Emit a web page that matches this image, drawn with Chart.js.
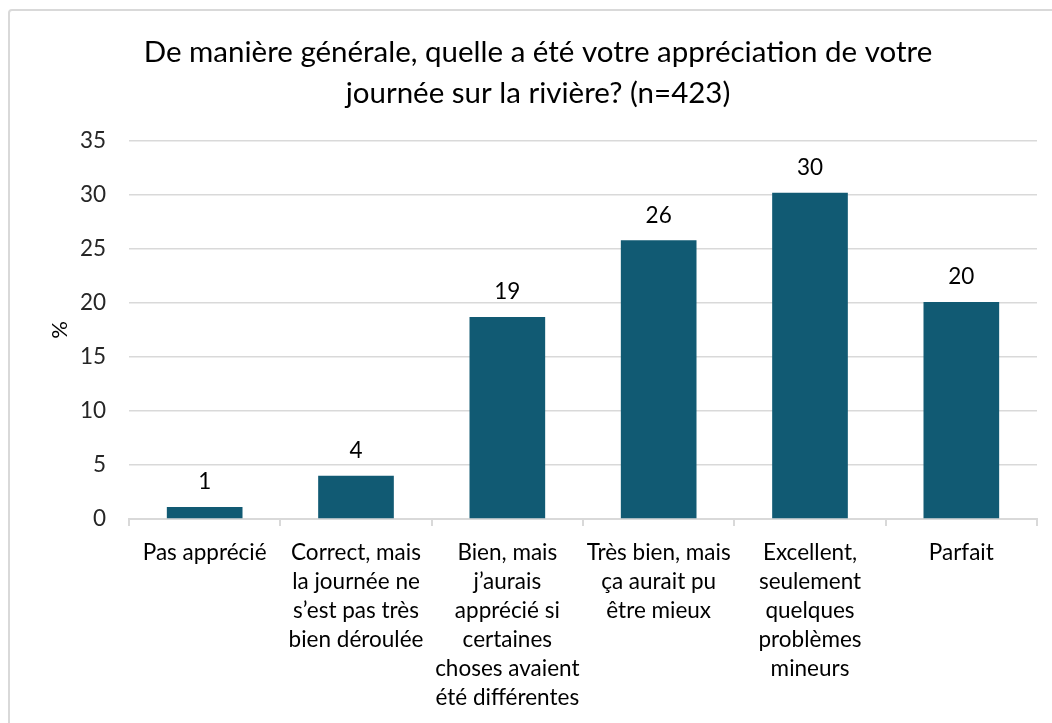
<!DOCTYPE html>
<html>
<head>
<meta charset="utf-8">
<script src="https://cdn.jsdelivr.net/npm/chart.js@4/dist/chart.umd.min.js"></script>
<style>
  html, body { margin: 0; padding: 0; background: #fff; overflow: hidden; }
  #frame { position: absolute; left: 8px; top: 9px; width: 1100px; height: 800px; border: 2px solid #d9d9d9; border-radius: 4px; }
  #wrap { position: absolute; left: 0; top: 0; width: 1052px; height: 723px; }
</style>
</head>
<body>
<div id="frame"></div>
<div id="wrap"><canvas id="chart" width="1052" height="723"></canvas></div>
<script>
const titleLines = ['De manière générale, quelle a été votre appréciation de votre', 'journée sur la rivière? (n=423)'];

const categories = [
  ['Pas apprécié'],
  ['Correct, mais', 'la journée ne', 's\u2019est pas très', 'bien déroulée'],
  ['Bien, mais', 'j\u2019aurais', 'apprécié si', 'certaines', 'choses avaient', 'été différentes'],
  ['Très bien, mais', 'ça aurait pu', 'être mieux'],
  ['Excellent,', 'seulement', 'quelques', 'problèmes', 'mineurs'],
  ['Parfait'],
];

const percents = [1.1, 4.0, 18.7, 25.8, 30.2, 20.1];
const shownLabels = ['1', '4', '19', '26', '30', '20'];

const yTicks = [0, 5, 10, 15, 20, 25, 30, 35];

const FONT = 'Lato, "Open Sans", sans-serif';

// value labels above each bar
const barLabels = {
  id: 'barLabels',
  afterDatasetsDraw(chart) {
    const ctx = chart.ctx;
    const meta = chart.getDatasetMeta(0);
    ctx.save();
    ctx.font = '22.5px ' + FONT;
    ctx.fillStyle = '#000';
    ctx.textAlign = 'center';
    ctx.textBaseline = 'middle';
    meta.data.forEach((bar, i) => {
      ctx.fillText(shownLabels[i], bar.x, bar.y - 25);
    });
    ctx.restore();
  },
};

new Chart(document.getElementById('chart'), {
  type: 'bar',
  data: {
    labels: categories,
    datasets: [{
      label: '%',
      data: percents,
      backgroundColor: '#115a73',
      categoryPercentage: 1,
      barPercentage: 0.5,
    }],
  },
  options: {
    responsive: false,
    animation: false,
    layout: { padding: { left: 39, right: 15, top: 0, bottom: 0 } },
    plugins: {
      legend: { display: false },
      tooltip: { enabled: false },
      title: {
        display: true,
        text: titleLines,
        color: '#000',
        font: { family: FONT, size: 29.5, weight: 'normal', lineHeight: 41 / 29.5 },
        padding: { top: 31.5, bottom: 27.5 },
      },
    },
    scales: {
      x: {
        grid: { drawOnChartArea: false, drawTicks: true, tickLength: 7, color: '#d9d9d9', lineWidth: 2 },
        border: { display: true, color: '#d9d9d9', width: 2 },
        ticks: {
          color: '#000',
          font: { family: FONT, size: 22.5, lineHeight: 29 / 22.5 },
          maxRotation: 0,
          autoSkip: false,
          padding: 12,
        },
        afterFit(scale) { scale.height = 204; },
      },
      y: {
        min: 0,
        max: 35,
        afterBuildTicks(scale) { scale.ticks = yTicks.map(v => ({ value: v })); },
        grid: { drawTicks: false, color: '#d9d9d9', lineWidth: 1.5 },
        border: { display: false },
        ticks: {
          color: '#262626',
          font: { family: FONT, size: 22.5 },
          padding: 23,
        },
        title: {
          display: true,
          text: '%',
          color: '#000',
          font: { family: FONT, size: 22 },
          padding: { top: 8, bottom: 0 },
        },
        afterFit(scale) { scale.width = 90; },
      },
    },
  },
  plugins: [barLabels],
});
</script>
</body>
</html>
